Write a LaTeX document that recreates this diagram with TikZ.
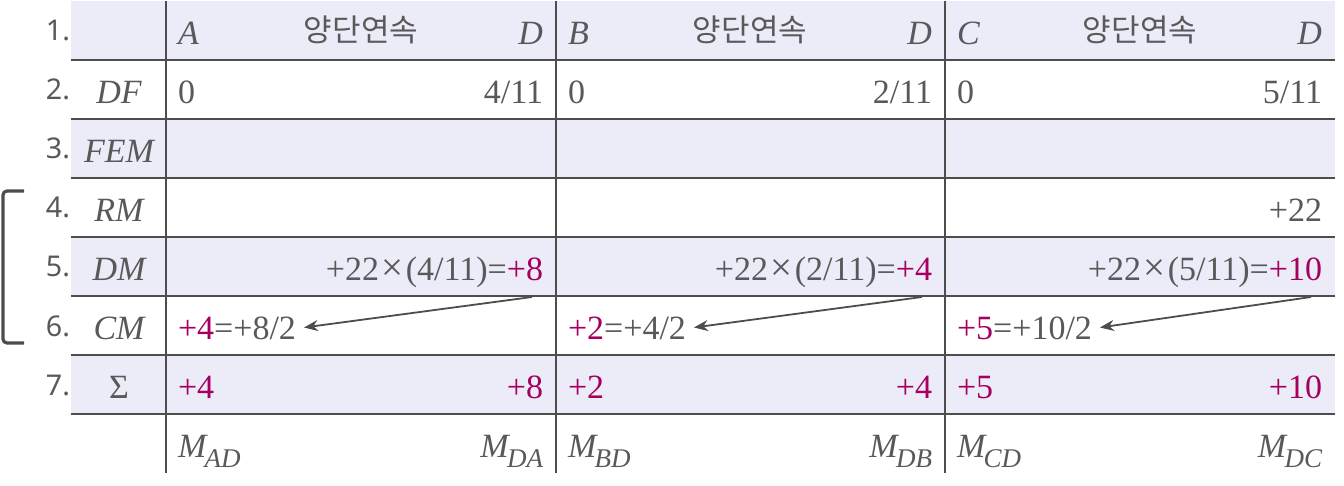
\documentclass[tikz,border=0pt]{standalone}
\usepackage{fontspec}
\setmainfont{Liberation Serif}
\newfontfamily\numfont{Noto Sans}
\newfontfamily\krfont{Noto Sans CJK KR}
\usetikzlibrary{arrows.meta,calc}
\definecolor{txt}{HTML}{595959}
\definecolor{mag}{HTML}{A5005F}
\definecolor{rowbg}{HTML}{ECECF9}
\definecolor{rulec}{HTML}{4D4D4D}
\newcommand{\pk}[1]{\textcolor{mag}{#1}}
\newcommand{\Msub}[2]{\textit{#1}\kern-1.6pt\raisebox{-0.3em}{\fontsize{13.5}{13.5}\selectfont\itshape #2}}
\newcommand{\tms}{\kern1.2pt{\fontsize{19.5}{19.5}\selectfont ×}\kern1.2pt}
\begin{document}
\begin{tikzpicture}[x=0.5pt,y=-0.5pt,
  every node/.style={inner sep=0pt, outer sep=0pt, text=txt, font=\fontsize{17}{17}\selectfont},
  cl/.style={anchor=base west},
  cr/.style={anchor=base east},
  lab/.style={anchor=base, font=\fontsize{17}{17}\selectfont\itshape},
  num/.style={anchor=base east, font=\fontsize{14.3}{14.3}\selectfont\numfont},
  kr/.style={anchor=base, font=\fontsize{15.5}{15.5}\selectfont\krfont},
  grid/.style={draw=rulec, line width=1.25pt},
  arr/.style={draw=rulec, line width=0.9pt, -{Stealth[length=7pt,width=5.5pt]}}]
\useasboundingbox (0,0) rectangle (1344,486);
% shading
\foreach \t/\b in {1/60,119/178,237/296,355/414}
  \fill[rowbg] (71,\t) rectangle (1335,\b);
% horizontal rules
\foreach \y in {60,119,178,237,296,355,414}
  \draw[grid] (71,\y) -- (1335,\y);
% vertical rules
\foreach \x in {166,556,945}
  \draw[grid] (\x,1) -- (\x,473);
% bracket
\draw[draw=rulec, line width=1.6pt, rounded corners=2pt] (24,191) -- (3,191) -- (3,343) -- (24,343);
% row numbers
\node[num] (n1) at (70,41) {1.};
\node[num] (n2) at (70,100) {2.};
\node[num] (n3) at (70,159) {3.};
\node[num] (n4) at (70,218) {4.};
\node[num] (n5) at (70,277) {5.};
\node[num] (n6) at (70,336) {6.};
\node[num] (n7) at (70,395) {7.};
% row labels
\node[lab] (lDF) at (119,103.5) {DF};
\node[lab] (lFEM) at (119,162.5) {FEM};
\node[lab] (lRM) at (119,221.5) {RM};
\node[lab] (lDM) at (119,280.5) {DM};
\node[lab] (lCM) at (119,339.5) {CM};
\node[anchor=base] (lS) at (119,398.5) {Σ};
% header row
\node[cl] (hA) at (178,44.5) {\textit{A}};
\node[kr] (hkA) at (361,42) {양단연속};
\node[cr] (hDA) at (543,44.5) {\textit{D}};
\node[cl] (hB) at (568,44.5) {\textit{B}};
\node[kr] (hkB) at (750,42) {양단연속};
\node[cr] (hDB) at (932,44.5) {\textit{D}};
\node[cl] (hC) at (957,44.5) {\textit{C}};
\node[kr] (hkC) at (1140,42) {양단연속};
\node[cr] (hDC) at (1322,44.5) {\textit{D}};
% DF row
\node[cl] (dfA) at (178,103.5) {0};
\node[cr] (dfAD) at (543,103.5) {4/11};
\node[cl] (dfB) at (568,103.5) {0};
\node[cr] (dfBD) at (932,103.5) {2/11};
\node[cl] (dfC) at (957,103.5) {0};
\node[cr] (dfCD) at (1322,103.5) {5/11};
% RM row
\node[cr] (rmC) at (1322,221.5) {+22};
% DM row
\node[cr] (dmA) at (543,280.5) {+22\tms(4/11)=\pk{+8}};
\node[cr] (dmB) at (932,280.5) {+22\tms(2/11)=\pk{+4}};
\node[cr] (dmC) at (1322,280.5) {+22\tms(5/11)=\pk{+10}};
% CM row
\node[cl] (cmA) at (178,339.5) {\pk{+4}=+8/2};
\node[cl] (cmB) at (568,339.5) {\pk{+2}=+4/2};
\node[cl] (cmC) at (957,339.5) {\pk{+5}=+10/2};
% sum row
\node[cl] (sA1) at (178,398.5) {\pk{+4}};
\node[cr] (sA2) at (543,398.5) {\pk{+8}};
\node[cl] (sB1) at (568,398.5) {\pk{+2}};
\node[cr] (sB2) at (932,398.5) {\pk{+4}};
\node[cl] (sC1) at (957,398.5) {\pk{+5}};
\node[cr] (sC2) at (1322,398.5) {\pk{+10}};
% moment names
\node[cl] (mAD) at (178,457.5) {\Msub{M}{AD}};
\node[cr] (mDA) at (543,457.5) {\Msub{M}{DA}};
\node[cl] (mBD) at (568,457.5) {\Msub{M}{BD}};
\node[cr] (mDB) at (932,457.5) {\Msub{M}{DB}};
\node[cl] (mCD) at (957,457.5) {\Msub{M}{CD}};
\node[cr] (mDC) at (1322,457.5) {\Msub{M}{DC}};
% carry-over arrows
\coordinate (stA) at (532,297);
\coordinate (stB) at (922,297);
\coordinate (stC) at (1311,297);
\draw[arr] (stA) -- ($(cmA.base east)+(8,-12)$);
\draw[arr] (stB) -- ($(cmB.base east)+(8,-12)$);
\draw[arr] (stC) -- ($(cmC.base east)+(8,-12)$);
\end{tikzpicture}
\end{document}
